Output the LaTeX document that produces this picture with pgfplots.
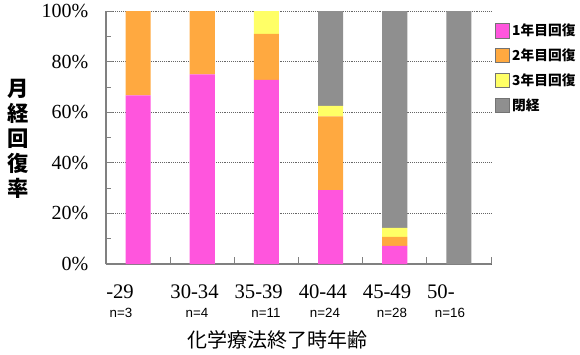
\documentclass[border=0pt]{standalone}
\usepackage{fontspec}
\usepackage{pgfplots}
\usepackage{pgfplotstable}
\pgfplotsset{compat=1.18}
\setmainfont{Liberation Serif}
\setsansfont{Liberation Sans}
\newfontfamily\jp{Noto Sans CJK JP}
\definecolor{cpink}{HTML}{FF55DD}
\definecolor{corange}{HTML}{FFA940}
\definecolor{cyellow}{HTML}{FFFF66}
\definecolor{cgray}{HTML}{8F8F8F}
\definecolor{axgray}{HTML}{808080}
\pgfplotstableread{
x a b c d
0 66.67 33.33 0 0
1 75.00 25.00 0 0
2 72.73 18.18 9.09 0
3 29.17 29.17 4.17 37.49
4 7.14 3.57 3.57 85.72
5 0 0 0 100
}\datatable
\begin{document}
\begin{tikzpicture}
\begin{axis}[
  name=ax,
  scale only axis,
  clip=false,
  width=288.75pt, height=189.75pt,
  ybar stacked,
  bar width=0.39,
  xmin=-0.5, xmax=5.5,
  ymin=0, ymax=100,
  xtick={-0.5,0.5,1.5,2.5,3.5,4.5,5.5},
  xticklabels={-29,30-34,35-39,40-44,45-49,50-,{}},
  xticklabel style={anchor=base west, inner xsep=0pt, yshift=-26pt, font=\fontsize{15.5}{17}\selectfont},
  ytick={0,20,40,60,80,100},
  yticklabels={0\%,20\%,40\%,60\%,80\%,100\%},
  minor ytick={10,30,50,70,90},
  yticklabel style={inner xsep=0pt, xshift=-13pt, font=\fontsize{15}{16}\selectfont},
  tick align=inside,
  major tick length=5pt,
  minor tick length=4pt,
  xtick style={axgray, line width=0.6pt},
  ytick style={axgray, line width=0.6pt},
  ymajorgrids,
  major grid style={densely dotted, black!60, line width=0.5pt},
  axis x line*=bottom,
  axis y line*=left,
  axis line style={axgray, line width=0.8pt, -},
  xlabel={\jp 化学療法終了時年齢},
  every axis x label/.style={at={(rel axis cs:0.5,0)}, anchor=center, xshift=-16pt, yshift=-57pt, font=\fontsize{15}{16}\selectfont},
  ylabel={\jp\bfseries\fontsize{16}{17.3}\selectfont\begin{tabular}{@{}c@{}}月\\経\\回\\復\\率\end{tabular}},
  every axis y label/.style={at={(rel axis cs:0,0.5)}, anchor=center, xshift=-66pt, yshift=-3pt},
  legend style={at={(rel axis cs:1,1)}, anchor=north west, xshift=-0.5pt, yshift=-5.5pt, draw=none, fill=none,
    font=\jp\bfseries\fontsize{10.3}{11}\selectfont, row sep=4.3pt, legend cell align=left,
    /tikz/every even column/.append style={column sep=0pt}},
  legend image code/.code={\draw[#1, draw=black!55, line width=0.6pt] (0pt,-5.3pt) rectangle (10.6pt,5.3pt);},
]
\addplot[fill=cpink, draw=none] table[x=x,y=a]{\datatable};
\addplot[fill=corange, draw=none] table[x=x,y=b]{\datatable};
\addplot[fill=cyellow, draw=none] table[x=x,y=c]{\datatable};
\addplot[fill=cgray, draw=none] table[x=x,y=d]{\datatable};
\legend{1年目回復,2年目回復,3年目回復,閉経}
\node[font=\sffamily\fontsize{10}{11}\selectfont] at ([yshift=-37pt]axis cs:-0.266,0) {n=3};
\node[font=\sffamily\fontsize{10}{11}\selectfont] at ([yshift=-37pt]axis cs:0.918,0) {n=4};
\node[font=\sffamily\fontsize{10}{11}\selectfont] at ([yshift=-37pt]axis cs:1.993,0) {n=11};
\node[font=\sffamily\fontsize{10}{11}\selectfont] at ([yshift=-37pt]axis cs:2.913,0) {n=24};
\node[font=\sffamily\fontsize{10}{11}\selectfont] at ([yshift=-37pt]axis cs:3.957,0) {n=28};
\node[font=\sffamily\fontsize{10}{11}\selectfont] at ([yshift=-37pt]axis cs:4.86,0) {n=16};
\end{axis}
\pgfresetboundingbox
\path ([shift={(-79.5pt,-67.5pt)}]ax.south west) rectangle ++(435pt,265.5pt);
\end{tikzpicture}
\end{document}
